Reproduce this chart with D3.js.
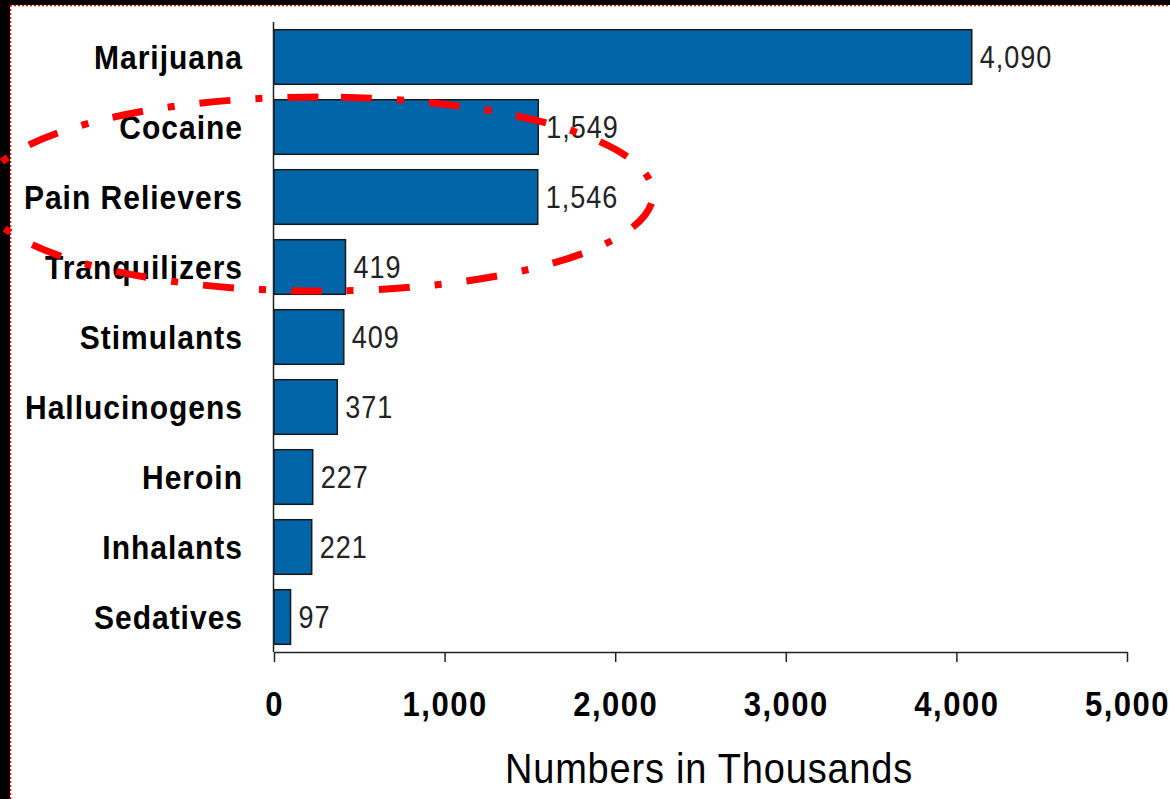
<!DOCTYPE html>
<html>
<head>
<meta charset="utf-8">
<script src="https://cdn.jsdelivr.net/npm/d3@7"></script>
<style>
  html, body { margin: 0; padding: 0; background: #ffffff; }
  svg { display: block; }
</style>
</head>
<body>
<svg id="chart" width="1170" height="799"></svg>
<script>
// Past-year users by substance, numbers in thousands
const categories = ["Marijuana", "Cocaine", "Pain Relievers", "Tranquilizers", "Stimulants",
                    "Hallucinogens", "Heroin", "Inhalants", "Sedatives"];
const values = [4090, 1549, 1546, 419, 409, 371, 227, 221, 97];
const xTicks = [0, 1000, 2000, 3000, 4000, 5000];
const axisTitle = "Numbers in Thousands";

const W = 1170, H = 799;
const plot = { left: 274, right: 1127, top: 22, bottom: 652 };
const FONT = "'Liberation Sans', Arial, Helvetica, sans-serif";
const STRETCH = 1.13;  // tall, narrow lettering

const svg = d3.select("#chart");

svg.append("rect").attr("x", 0).attr("y", 0).attr("width", W).attr("height", H).attr("fill", "#ffffff");

const x = d3.scaleLinear().domain([0, 5000]).range([plot.left, plot.right]);
const y = d3.scaleBand().domain(categories).range([plot.top, plot.bottom])
  .paddingInner(0.22).paddingOuter(0.11);

const fmt = d3.format(",");

// bars
svg.append("g").selectAll("rect")
  .data(values)
  .join("rect")
  .attr("x", x(0))
  .attr("y", (d, i) => y(categories[i]))
  .attr("width", d => x(d) - x(0))
  .attr("height", y.bandwidth())
  .attr("fill", "#0064a8")
  .attr("stroke", "#1a1a1a")
  .attr("stroke-width", 1.5);

// value labels
svg.append("g").selectAll("text")
  .data(values)
  .join("text")
  .attr("transform", (d, i) => `translate(${x(d) + 8},${y(categories[i]) + y.bandwidth() / 2}) scale(1,${STRETCH})`)
  .attr("dy", "0.36em")
  .attr("font-family", FONT)
  .attr("font-size", 27)
  .attr("letter-spacing", 1)
  .attr("fill", "#222")
  .text(d => fmt(d));

// category labels
svg.append("g").selectAll("text")
  .data(categories)
  .join("text")
  .attr("transform", d => `translate(${plot.left - 31},${y(d) + y.bandwidth() / 2}) scale(1,${STRETCH})`)
  .attr("dy", "0.36em")
  .attr("text-anchor", "end")
  .attr("font-family", FONT)
  .attr("font-weight", "bold")
  .attr("font-size", 30)
  .attr("letter-spacing", 1)
  .attr("fill", "#000")
  .text(d => d);

// category axis line
svg.append("line")
  .attr("x1", plot.left - 0.5).attr("x2", plot.left - 0.5)
  .attr("y1", plot.top).attr("y2", plot.bottom)
  .attr("stroke", "#222").attr("stroke-width", 1.5);

// value axis
const xAxis = svg.append("g")
  .attr("transform", `translate(0,${plot.bottom})`)
  .call(d3.axisBottom(x).tickValues(xTicks).tickFormat(fmt).tickSize(10).tickSizeOuter(0));
xAxis.select(".domain").attr("stroke", "#222").attr("stroke-width", 1.5);
xAxis.selectAll(".tick line").attr("stroke", "#222").attr("stroke-width", 1.5);
xAxis.selectAll(".tick text")
  .attr("y", null)
  .attr("dy", null)
  .attr("transform", `translate(0,64) scale(1,${STRETCH})`)
  .attr("font-family", FONT)
  .attr("font-weight", "bold")
  .attr("font-size", 31)
  .attr("letter-spacing", 1.5)
  .attr("fill", "#000");

// axis title
svg.append("text")
  .attr("transform", `translate(709,783) scale(1,${STRETCH})`)
  .attr("text-anchor", "middle")
  .attr("font-family", FONT)
  .attr("font-size", 38)
  .attr("letter-spacing", 0.8)
  .attr("fill", "#000")
  .text(axisTitle);

// frame: dark edge with a dotted red rule
svg.append("rect").attr("x", 0).attr("y", 0).attr("width", 10).attr("height", H).attr("fill", "#000");
svg.append("rect").attr("x", 0).attr("y", 0).attr("width", W).attr("height", 5).attr("fill", "#000");
svg.append("line").attr("x1", 10.5).attr("x2", 10.5).attr("y1", 5).attr("y2", H)
  .attr("stroke", "#ff0000").attr("stroke-width", 1.5).attr("stroke-dasharray", "2 2");
svg.append("line").attr("x1", 10).attr("x2", W).attr("y1", 5.5).attr("y2", 5.5)
  .attr("stroke", "#ff0000").attr("stroke-width", 1.5).attr("stroke-dasharray", "2 2");

// dash-dot ring highlighting cocaine and pain relievers,
// drawn clockwise from a point near the top of the ring
const ring = { cx: 318, cy: 194, rx: 335, ry: 97, startX: 341 };
const t0 = Math.acos((ring.startX - ring.cx) / ring.rx);
const p0 = [ring.cx + ring.rx * Math.cos(t0), ring.cy - ring.ry * Math.sin(t0)];
const arcTo = (px, py) => `A${ring.rx},${ring.ry} 0 0 1 ${px},${py}`;
const ringD = `M${p0[0]},${p0[1]} ` +
  arcTo(ring.cx + ring.rx, ring.cy) + " " +
  arcTo(ring.cx - ring.rx, ring.cy) + " " +
  arcTo(p0[0], p0[1]);
svg.append("path")
  .attr("d", ringD)
  .attr("fill", "none")
  .attr("stroke", "#ff0000")
  .attr("stroke-width", 7)
  .attr("stroke-dasharray", "31 25 7 25");
</script>
</body>
</html>
